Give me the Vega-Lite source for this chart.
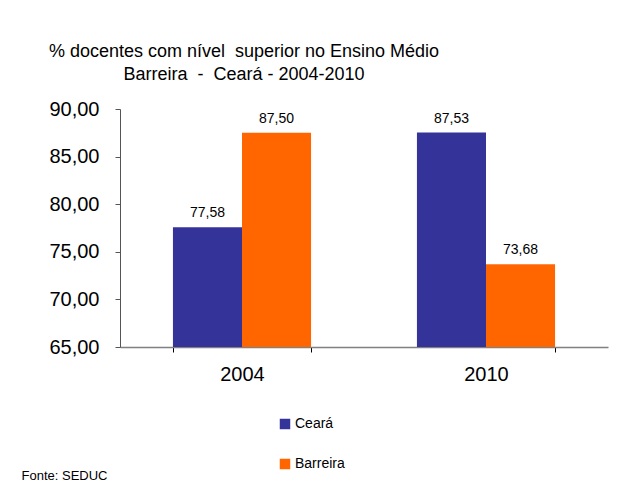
{
  "$schema": "https://vega.github.io/schema/vega-lite/v6.json",
  "width": 488,
  "height": 238,
  "autosize": {"type": "none"},
  "padding": {"left": 120, "top": 109, "right": 18, "bottom": 141},
  "background": "white",
  "config": {
    "font": "Liberation Sans",
    "view": {"stroke": null},
    "locale": {"number": {"decimal": ",", "thousands": ".", "grouping": [3], "currency": ["R$", ""]}}
  },
  "title": {
    "text": ["% docentes com nível \u00a0superior no Ensino Médio", "Barreira \u00a0- \u00a0Ceará - 2004-2010"],
    "anchor": "middle",
    "dx": -120,
    "fontSize": 18,
    "fontWeight": "normal",
    "font": "Liberation Sans",
    "color": "#000000",
    "lineHeight": 23,
    "offset": 15
  },
  "data": {
    "values": [
      {"ano": "2004", "serie": "Ceará", "valor": 77.58},
      {"ano": "2004", "serie": "Barreira", "valor": 87.50},
      {"ano": "2010", "serie": "Ceará", "valor": 87.53},
      {"ano": "2010", "serie": "Barreira", "valor": 73.68}
    ]
  },
  "encoding": {
    "x": {
      "field": "ano",
      "type": "nominal",
      "scale": {"paddingInner": 0.434, "paddingOuter": 0.217},
      "axis": {
        "title": "Fonte: SEDUC",
        "titleFontSize": 13,
        "titleFontWeight": "normal",
        "titleColor": "#000000",
        "titleX": -99,
        "titleY": 132,
        "titleAlign": "left",
        "titleBaseline": "alphabetic",
        "titleAnchor": null,
        "labelAngle": 0,
        "labelFontSize": 20,
        "labelColor": "#000000",
        "labelPadding": 12,
        "tickBand": "extent",
        "tickSize": 5,
        "tickColor": "#000000",
        "domainColor": "#808080",
        "domainWidth": 1.5
      }
    },
    "xOffset": {"field": "serie", "type": "nominal", "sort": ["Ceará", "Barreira"], "scale": {"paddingInner": 0, "paddingOuter": 0}}
  },
  "layer": [
    {
      "mark": {"type": "bar"},
      "encoding": {
        "y": {
          "field": "valor",
          "type": "quantitative",
          "scale": {"domain": [65, 90], "zero": false, "nice": false},
          "axis": {
            "title": null,
            "values": [65, 70, 75, 80, 85, 90],
            "format": ".2f",
            "labelFontSize": 20,
            "labelColor": "#000000",
            "labelPadding": 16,
            "tickSize": 5,
            "tickColor": "#555555",
            "domainColor": "#555555",
            "grid": false
          }
        },
        "y2": {"datum": 65},
        "color": {
          "field": "serie",
          "type": "nominal",
          "sort": ["Ceará", "Barreira"],
          "scale": {"domain": ["Ceará", "Barreira"], "range": ["#333399", "#FF6600"]},
          "legend": {
            "title": null,
            "orient": "none",
            "legendX": 158,
            "legendY": 308,
            "direction": "vertical",
            "symbolType": "square",
            "symbolSize": 110,
            "symbolStrokeWidth": 0,
            "symbolOpacity": 1,
            "labelFontSize": 14,
            "labelColor": "#000000",
            "labelOffset": 3,
            "rowPadding": 26
          }
        }
      }
    },
    {
      "mark": {"type": "text", "baseline": "alphabetic", "dy": -10, "fontSize": 14, "color": "#000000"},
      "encoding": {
        "y": {"field": "valor", "type": "quantitative"},
        "text": {"field": "valor", "type": "quantitative", "format": ".2f"}
      }
    }
  ]
}
